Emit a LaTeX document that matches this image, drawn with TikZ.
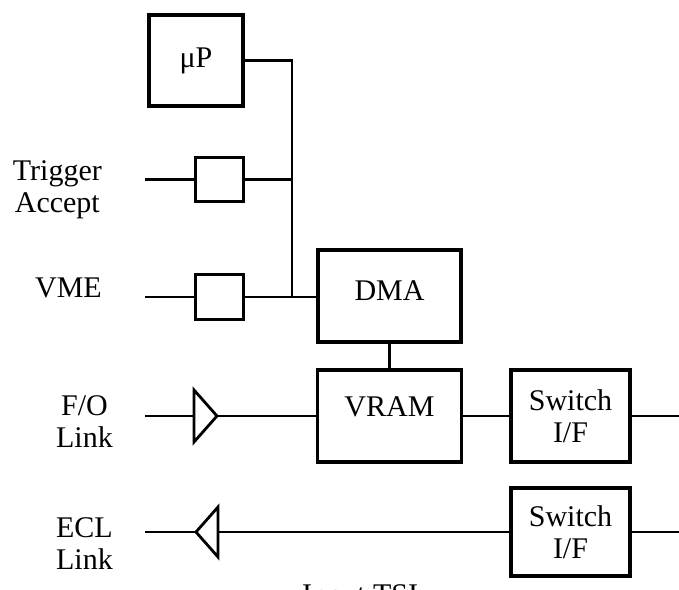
\documentclass[tikz,border=0pt]{standalone}
\usepackage{fontspec}
\setmainfont{Liberation Serif}

\tikzset{
  blk/.style={draw, line width=3.6pt, inner sep=0pt, align=center},
  wire/.style={line width=2.8pt},
  tri/.style={draw, line width=2.8pt},
  lbl/.style={inner sep=0pt, align=center}
}

\begin{document}
\begin{tikzpicture}[x=1pt,y=-1pt, every node/.style={font=\fontsize{30}{32}\selectfont}]
\useasboundingbox (0,0) rectangle (679,589);
% boxes
\node[blk, minimum width=94pt, minimum height=91pt] (up) at (196,60.5) {μP};
\node[blk, minimum width=48pt, minimum height=44pt] (trg) at (219.5,179.5) {};
\node[blk, minimum width=48pt, minimum height=45pt] (vme) at (219.5,297) {};
\node[blk, minimum width=143pt, minimum height=92pt, text depth=10pt] (dma) at (389.5,296) {DMA};
\node[blk, minimum width=144pt, minimum height=92pt, text depth=18pt] (vram) at (389.5,416) {VRAM};
\node[blk, minimum width=119pt, minimum height=92pt] (sw1) at (570.5,416) {Switch\\I/F};
\node[blk, minimum width=119pt, minimum height=88pt] (sw2) at (570.5,532) {Switch\\I/F};
% labels
\node[lbl, anchor=north east] (trglbl) at (102,160) {Trigger\\Accept};
\node[lbl, anchor=north east] (vmelbl) at (102,278) {VME};
\node[lbl, anchor=north east] (folbl) at (113,395) {F/O\\Link};
\node[lbl, anchor=north east] (ecllbl) at (113,517) {ECL\\Link};
\node[lbl, anchor=north west] (tsilbl) at (302,584) {Input TSI};
% end points
\coordinate (busbot) at (292,297);
\coordinate (trgin) at (145,179.5);
\coordinate (vmein) at (145,297);
\coordinate (foin) at (145,416);
\coordinate (fob) at (194,416);
\coordinate (fot) at (217,416);
\coordinate (eclout) at (145,532);
\coordinate (eclt) at (196,532);
\coordinate (eclb) at (218,532);
\coordinate (sw1out) at (679,416);
\coordinate (sw2out) at (679,532);
% buffers
\draw[tri] (194,390) -- (fot) -- (194,442) -- cycle;
\draw[tri] (218,507) -- (eclt) -- (218,557) -- cycle;
% wires
\draw[wire] (up.east) -| (busbot);
\draw[wire] (trg.east) -- (trg.east -| busbot);
\draw[wire] (vme.east) -- (vme.east -| dma.west);
\draw[wire] (dma.south) -- (vram.north);
\draw[wire] (vram.east) -- (sw1.west);
\draw[wire] (sw1.east) -- (sw1out);
\draw[wire] (sw2.east) -- (sw2out);
\draw[wire] (trgin) -- (trg.west);
\draw[wire] (vmein) -- (vme.west);
\draw[wire] (foin) -- (fob);
\draw[wire] (fot) -- (vram.west);
\draw[wire] (eclout) -- (eclt);
\draw[wire] (eclb) -- (sw2.west);
\end{tikzpicture}
\end{document}
